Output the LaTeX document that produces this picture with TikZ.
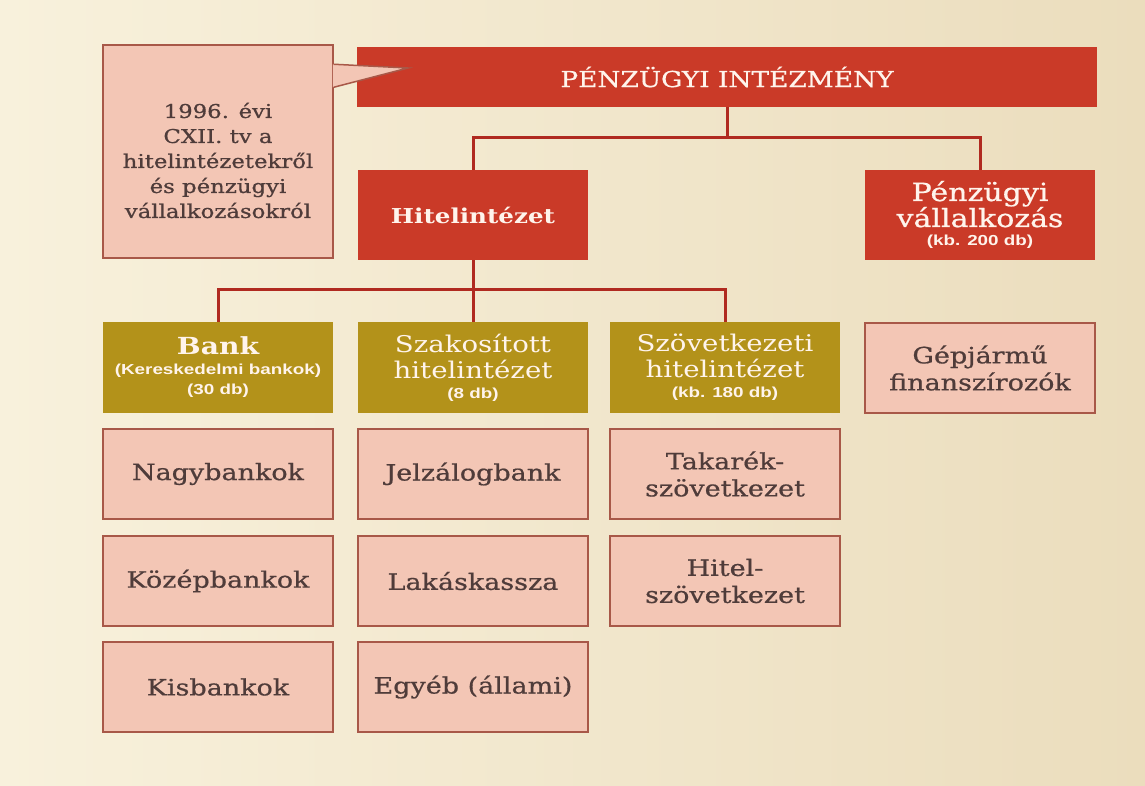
\documentclass[tikz,border=0pt]{standalone}
\usepackage{fontspec}
\setmainfont{DejaVu Serif}[FakeStretch=1.2]
\newfontfamily\medserif{DejaVu Serif}[FakeStretch=1.2, FakeBold=0.7]
\newfontfamily\smallsans{Liberation Sans}[FakeStretch=1.3]
\usetikzlibrary{calc}
\definecolor{bgL}{HTML}{F8F1DC}
\definecolor{bgR}{HTML}{EBDDBD}
\definecolor{redbox}{HTML}{CA3A28}
\definecolor{goldbox}{HTML}{B3921A}
\definecolor{pinkbox}{HTML}{F3C6B5}
\definecolor{pinkborder}{HTML}{A85848}
\definecolor{connred}{HTML}{B02A20}
\definecolor{darktext}{HTML}{4F3C3A}
\definecolor{lighttext}{HTML}{FFF4EC}
\tikzset{
  basebox/.style={rectangle, minimum width=230pt, minimum height=90pt, inner sep=2pt, align=center},
  redstyle/.style={basebox, fill=redbox, text=lighttext},
  goldstyle/.style={basebox, fill=goldbox, text=lighttext, minimum height=91pt},
  pinkstyle/.style={basebox, fill=pinkbox, draw=pinkborder, line width=1.5pt, text=darktext,
     font=\medserif\fontsize{22.5}{27}\selectfont},
  conn/.style={draw=connred, line width=3pt},
}
\newcommand{\smalltxt}[1]{{\smallsans\bfseries\fontsize{14.5}{16}\selectfont #1}}
\begin{document}
\begin{tikzpicture}[x=1pt,y=-1pt]
\shade[left color=bgL, right color=bgR] (0,0) rectangle (1145,785);
\useasboundingbox (0,0) rectangle (1145,785);

% callout box
\node[pinkstyle, minimum height=213pt] (callout) at (218,151.5) {};
\node[text=darktext, align=center, font=\medserif\fontsize{19}{25}\selectfont] (calloutT)
  at ($(callout.center)+(0,9)$)
  {1996. évi\\CXII. tv a\\hitelintézetekről\\és pénzügyi\\vállalkozásokról};

% top
\node[redstyle, minimum width=740pt, minimum height=60pt, font=\medserif\fontsize{22}{24}\selectfont] (top) at (727,77)
  {PÉNZÜGYI INTÉZMÉNY};

% callout pointer
\coordinate (tip) at (408,68);
\coordinate (pa) at ($(callout.north east)+(0,20)$);
\coordinate (pb) at ($(callout.north east)+(0,43)$);
\fill[pinkbox] ($(pa)+(-1,0)$) -- (tip) -- ($(pb)+(-1,0)$) -- cycle;
\draw[pinkborder, line width=1.5pt] (pa) -- (tip) -- (pb);

% level 2
\node[redstyle, font=\bfseries\fontsize{20.5}{25}\selectfont] (hitel) at (473,215) {Hitelintézet};
\node[redstyle, font=\medserif\fontsize{25}{26}\selectfont] (pv) at (980,215)
  {Pénzügyi\\vállalkozás\\[-7pt]\smalltxt{(kb. 200 db)}};

% level 3
\node[goldstyle, font=\fontsize{14.5}{20}\selectfont] (bank) at (218,367.5)
  {{\bfseries\fontsize{23.5}{20}\selectfont Bank}\\\smalltxt{(Kereskedelmi bankok)}\\\smalltxt{(30 db)}};
\node[goldstyle, font=\fontsize{23}{26}\selectfont] (szak) at (473,367.5)
  {Szakosított\\hitelintézet\\[-6pt]\smalltxt{(8 db)}};
\node[goldstyle, font=\fontsize{23}{26}\selectfont] (szov) at (725,367.5)
  {Szövetkezeti\\hitelintézet\\[-6pt]\smalltxt{(kb. 180 db)}};
\node[pinkstyle] (gep) at (980,368) {Gépjármű\\finanszírozók};

% level 4
\node[pinkstyle] (nagy) at (218,474) {Nagybankok};
\node[pinkstyle] (jelz) at (473,474) {Jelzálogbank};
\node[pinkstyle] (tak) at (725,474) {Takarék-\\szövetkezet};

\node[pinkstyle] (kozep) at (218,581) {Középbankok};
\node[pinkstyle] (lakas) at (473,581) {Lakáskassza};
\node[pinkstyle] (hsz) at (725,581) {Hitel-\\szövetkezet};

\node[pinkstyle] (kis) at (218,687) {Kisbankok};
\node[pinkstyle] (egyeb) at (473,687) {Egyéb (állami)};

% connectors
\draw[conn] (top.south) -- ++(0,30) coordinate (j1);
\draw[conn] (hitel.north) |- (j1) -| (pv.north);
\draw[conn] (hitel.south) -- (szak.north);
\coordinate (j2) at ($(hitel.south)+(0,29)$);
\draw[conn] (bank.north) |- (j2) -| (szov.north);
\end{tikzpicture}
\end{document}
